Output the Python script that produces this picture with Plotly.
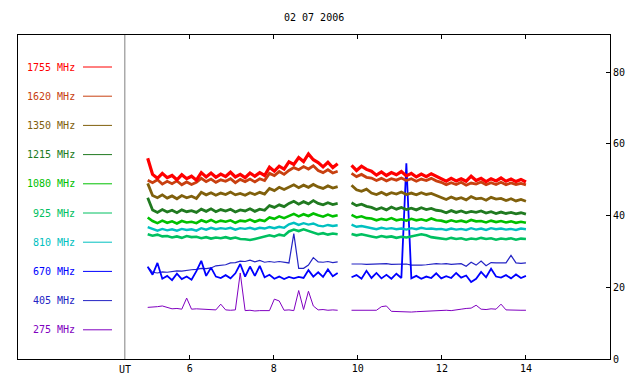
import numpy as np
import plotly.graph_objects as go

TITLE = "02 07 2006"
FREQS = ["1755 MHz", "1620 MHz", "1350 MHz", "1215 MHz", "1080 MHz",
         "925 MHz", "810 MHz", "670 MHz", "405 MHz", "275 MHz"]
COLORS = ["#ff0000", "#c84010", "#80600c", "#207a20", "#00c000",
          "#00c060", "#00c0c0", "#0000ff", "#2424c4", "#8000c0"]

# two observing segments (UT hours)
SEG1 = (5.0, 9.52)
SEG2 = (9.85, 14.0)
X_TICKS = [6, 8, 10, 12, 14]
Y_TICKS = [0, 20, 40, 60, 80]

s1755_a = [56.0, 51.5, 50.4, 51.8, 50.6, 51.2, 50.0, 51.4, 50.3, 51.0, 49.9, 52.0, 50.8, 51.9, 50.7, 51.6, 50.9, 52.1, 50.8, 51.5,
           50.6, 51.9, 51.0, 52.0, 51.2, 53.5, 52.4, 53.8, 53.0, 55.0, 54.3, 56.2, 55.1, 57.2, 55.6, 54.8, 53.6, 54.9, 53.4, 54.5]
s1755_b = [54.0, 52.6, 53.8, 52.9, 52.4, 51.3, 52.2, 51.2, 52.0, 51.4, 52.3, 51.1, 51.8, 50.8, 51.6, 50.9, 51.7, 51.0,
           50.5, 49.6, 50.4, 49.7, 50.3, 49.6, 51.0, 49.8, 50.4, 49.5, 50.3, 49.7, 50.5, 49.6, 50.2, 49.5, 50.1, 49.4]

s1620_a = [49.9, 49.2, 50.0, 48.8, 49.6, 48.9, 49.7, 48.6, 49.4, 48.7, 49.3, 50.4, 49.5, 50.2, 49.3, 50.0, 49.6, 50.3, 49.2, 50.1,
           49.5, 50.2, 49.4, 50.3, 49.8, 51.8, 51.2, 52.3, 51.5, 52.6, 53.4, 52.8, 53.7, 53.0, 53.9, 52.6, 52.0, 52.8, 51.9, 52.4]
s1620_b = [51.8, 50.9, 51.5, 50.7, 50.5, 49.8, 50.4, 49.7, 50.3, 49.9, 50.5, 49.8, 50.3, 49.6, 50.2, 49.8, 50.4, 49.7,
           49.3, 48.6, 49.2, 48.7, 49.3, 48.5, 49.1, 48.8, 49.4, 48.6, 49.2, 48.7, 49.3, 48.6, 49.1, 48.7, 49.0, 48.6]

s1350_a = [49.0, 45.6, 45.0, 45.8, 44.9, 45.5, 44.7, 45.6, 45.0, 45.4, 44.8, 46.5, 45.8, 46.4, 45.7, 46.3, 45.9, 46.6, 45.8, 46.2,
           45.7, 46.4, 45.9, 46.5, 46.0, 47.6, 47.0, 47.9, 47.3, 48.0, 48.6, 47.8, 48.5, 47.9, 48.7, 48.0, 47.6, 48.3, 47.7, 48.1]
s1350_b = [48.5, 47.2, 46.8, 47.4, 46.3, 45.9, 46.5, 45.8, 46.4, 46.0, 46.6, 45.9, 46.3, 45.8, 46.4, 45.9, 46.2, 45.7,
           45.1, 44.5, 45.2, 44.6, 45.0, 44.4, 45.3, 44.7, 44.9, 44.3, 45.1, 44.6, 44.8, 44.2, 44.7, 44.1, 44.5, 44.0]

s1215_a = [45.0, 41.6, 40.9, 41.7, 41.0, 41.5, 40.8, 41.6, 41.1, 41.4, 40.9, 41.8, 41.2, 41.9, 41.1, 41.7, 41.3, 41.8, 41.0, 41.6,
           41.3, 41.9, 41.2, 41.8, 41.5, 42.8, 42.3, 43.0, 42.5, 43.4, 44.0, 43.2, 43.9, 43.3, 44.2, 43.4, 43.0, 43.6, 43.1, 43.4]
s1215_b = [43.6, 42.8, 43.2, 42.6, 42.3, 41.7, 42.2, 41.6, 42.4, 41.8, 42.3, 41.7, 42.1, 41.6, 42.2, 41.7, 42.0, 41.5,
           41.3, 40.8, 41.4, 40.9, 41.3, 40.8, 41.2, 40.9, 41.3, 40.7, 41.1, 40.6, 41.0, 40.6, 40.9, 40.5, 40.8, 40.4]

s1080_a = [39.5, 38.5, 37.9, 38.6, 38.0, 38.4, 37.8, 38.5, 38.1, 38.3, 37.9, 38.7, 38.2, 38.8, 38.1, 38.6, 38.3, 38.7, 38.0, 38.6,
           38.4, 38.9, 38.3, 38.8, 38.5, 39.5, 39.1, 39.8, 39.3, 40.0, 40.5, 39.8, 40.4, 39.9, 40.6, 40.1, 39.7, 40.3, 39.8, 40.1]
s1080_b = [40.2, 39.5, 39.8, 39.3, 39.2, 38.7, 39.1, 38.8, 39.3, 38.7, 39.0, 38.6, 39.1, 38.7, 39.0, 38.6, 39.2, 38.7,
           38.6, 38.2, 38.7, 38.3, 38.6, 38.2, 38.8, 38.4, 38.5, 38.1, 38.6, 38.2, 38.5, 38.1, 38.4, 38.0, 38.3, 38.0]

s925_a = [34.8, 34.4, 34.7, 34.2, 34.3, 33.9, 34.2, 33.8, 34.3, 34.0, 34.1, 33.7, 34.0, 33.6, 33.9, 33.7, 34.0, 33.6, 33.9, 33.5,
          33.4, 33.2, 33.5, 33.8, 34.0, 34.5, 34.2, 34.7, 34.4, 35.6, 36.1, 35.7, 36.2, 35.8, 35.2, 34.8, 35.1, 34.7, 35.0, 34.8]
s925_b = [34.9, 34.5, 34.8, 34.4, 34.2, 33.9, 34.3, 34.0, 34.2, 33.8, 34.1, 33.9, 34.2, 34.6, 34.8, 34.5, 34.0, 33.8,
          33.7, 33.4, 33.8, 33.5, 33.7, 33.3, 33.6, 33.4, 33.8, 33.5, 33.7, 33.3, 33.6, 33.4, 33.7, 33.3, 33.6, 33.5]

s810_a = [36.8, 36.2, 35.8, 36.3, 35.9, 36.2, 35.8, 36.3, 36.0, 36.2, 35.8, 36.5, 36.1, 36.6, 36.2, 36.5, 36.3, 36.6, 36.1, 36.5,
          36.3, 36.6, 36.2, 36.6, 36.4, 36.8, 36.5, 36.9, 36.6, 37.6, 38.0, 37.4, 37.9, 37.5, 37.8, 37.2, 37.0, 37.4, 37.1, 37.3]
s810_b = [37.5, 36.9, 37.1, 36.8, 36.5, 36.2, 36.6, 36.3, 36.5, 36.2, 36.4, 36.1, 36.5, 36.2, 36.6, 36.3, 36.4, 36.2,
          36.3, 36.0, 36.4, 36.1, 36.3, 36.0, 36.5, 36.1, 36.4, 36.0, 36.5, 36.2, 36.4, 36.1, 36.3, 36.0, 36.4, 36.2]

s670_a = [25.7, 23.5, 26.8, 22.4, 23.2, 22.0, 23.8, 22.3, 23.0, 22.1, 24.5, 27.4, 23.2, 25.5, 23.0, 22.6, 23.4, 22.5, 23.9, 26.5,
          23.0, 25.8, 23.2, 26.0, 22.8, 23.5, 22.4, 23.0, 22.3, 22.9, 22.5, 22.9, 22.6, 24.8, 23.0, 24.2, 22.9, 25.0, 23.1, 24.0]
s670_b = [22.8, 23.4, 22.4, 24.6, 22.6, 24.0, 22.5, 23.5, 22.4, 23.8, 22.6, 54.6, 22.5, 23.2, 22.4, 23.0, 22.6, 23.9,
          22.5, 23.1, 22.6, 24.0, 22.7, 23.3, 21.5, 22.4, 24.3, 22.8, 25.2, 23.0, 22.7, 23.4, 22.5, 23.6, 22.6, 23.2]

s405_a = [25.8, 24.2, 24.0, 24.3, 24.2, 24.4, 24.6, 24.5, 24.8, 24.9, 25.0, 25.3, 25.2, 25.4, 26.0, 26.2, 26.3, 26.8, 26.9, 27.3,
          27.2, 27.6, 27.1, 27.5, 27.0, 27.2, 27.0, 27.2, 26.9, 26.8, 35.0, 25.3, 25.3, 26.2, 28.3, 27.1, 27.0, 27.2, 26.9, 27.1]
s405_b = [26.5, 26.6, 26.5, 26.4, 26.5, 26.4, 26.5, 26.6, 26.4, 26.5, 26.4, 26.5, 26.2, 26.1, 26.2, 26.3, 26.5, 26.6,
          26.5, 26.6, 26.4, 26.5, 26.6, 25.9, 27.0, 26.2, 27.3, 26.0, 26.9, 26.8, 26.7, 26.8, 28.9, 26.8, 26.7, 26.8]

s275_a = [14.4, 14.4, 14.6, 14.8, 14.3, 14.0, 14.1, 13.9, 17.0, 13.9, 14.0, 13.9, 13.8, 13.9, 13.7, 15.3, 13.7, 13.6, 13.7, 24.0,
          13.5, 13.6, 13.4, 13.5, 13.6, 13.5, 16.7, 16.2, 13.6, 13.7, 13.5, 19.1, 13.8, 18.9, 14.8, 13.7, 13.8, 13.6, 13.7, 13.6]
s275_b = [13.6, 13.6, 13.7, 13.6, 13.5, 13.6, 14.6, 14.8, 13.3, 13.2, 13.3, 13.2, 13.1, 13.2, 13.3, 13.4, 13.5, 13.4,
          13.5, 13.6, 13.5, 13.8, 13.9, 14.1, 14.2, 15.0, 13.9, 13.8, 14.0, 13.9, 15.3, 13.7, 13.6, 13.5, 13.6, 13.6]

SERIES = [(s1755_a, s1755_b), (s1620_a, s1620_b), (s1350_a, s1350_b), (s1215_a, s1215_b),
          (s1080_a, s1080_b), (s925_a, s925_b), (s810_a, s810_b), (s670_a, s670_b),
          (s405_a, s405_b), (s275_a, s275_b)]
WIDTHS = [3.2, 2.8, 2.8, 2.8, 2.6, 2.6, 2.4, 1.8, 1.2, 1.0]

FONT = "DejaVu Sans Mono"
X_RANGE = [1.914, 16.0]
Y_RANGE = [0, 90.4]
SEPARATOR_T = 4.456

fig = go.Figure()

t1 = np.linspace(SEG1[0], SEG1[1], len(s1755_a))
t2 = np.linspace(SEG2[0], SEG2[1], len(s1755_b))
tx = list(t1) + [None] + list(t2)

# draw from lowest frequency to highest so that higher ones are on top
for name, color, w, (a, b) in reversed(list(zip(FREQS, COLORS, WIDTHS, SERIES))):
    fig.add_trace(go.Scatter(x=tx, y=list(a) + [None] + list(b), mode="lines",
                             name=name, line=dict(color=color, width=w),
                             connectgaps=False, showlegend=False))

# legend panel on the left
shapes = [dict(type="line", xref="x", yref="paper", x0=SEPARATOR_T, x1=SEPARATOR_T,
               y0=0, y1=1, line=dict(color="#808080", width=1))]
annotations = []
PLOT_L, PLOT_R, PLOT_T, PLOT_B = 18, 610, 35, 359
def px_x(p):
    return (p - PLOT_L) / (PLOT_R - PLOT_L)
def px_y(p):
    return (PLOT_B - p) / (PLOT_B - PLOT_T)

for k, (name, color) in enumerate(zip(FREQS, COLORS)):
    yp = 67 + 29.2 * k
    annotations.append(dict(x=px_x(77), y=px_y(yp), xref="paper", yref="paper",
                            text=name, showarrow=False, xanchor="right", yanchor="middle",
                            font=dict(family=FONT, size=10, color=color)))
    shapes.append(dict(type="line", xref="paper", yref="paper",
                       x0=px_x(83), x1=px_x(112), y0=px_y(yp), y1=px_y(yp),
                       line=dict(color=color, width=1)))

annotations.append(dict(x=SEPARATOR_T, y=0, xref="x", yref="paper", text="UT",
                        showarrow=False, yanchor="top", yshift=-3,
                        font=dict(family=FONT, size=10, color="black")))
annotations.append(dict(x=0.5, y=px_y(18), xref="paper", yref="paper", text=TITLE,
                        showarrow=False, yanchor="middle",
                        font=dict(family=FONT, size=10, color="black")))

fig.update_layout(
    width=640, height=384,
    margin=dict(l=PLOT_L, r=640 - PLOT_R, t=PLOT_T, b=384 - PLOT_B, pad=0, autoexpand=False),
    paper_bgcolor="white", plot_bgcolor="white",
    shapes=shapes, annotations=annotations,
    xaxis=dict(range=X_RANGE, tickvals=X_TICKS, ticktext=[str(v) for v in X_TICKS],
               automargin=False,
               showgrid=False, zeroline=False, showline=True, linecolor="black",
               linewidth=1, mirror="ticks", ticks="inside", ticklen=4, tickcolor="black",
               tickfont=dict(family=FONT, size=10, color="black")),
    yaxis=dict(range=Y_RANGE, tickvals=Y_TICKS, side="right", automargin=False,
               showgrid=False, zeroline=False, showline=True, linecolor="black",
               linewidth=1, mirror=True, ticks="inside", ticklen=4, tickcolor="black",
               tickfont=dict(family=FONT, size=10, color="black")),
)

fig.write_html("out.html", config={"displayModeBar": False},
               post_script="document.body.style.margin='0';document.body.style.overflow='hidden';")
